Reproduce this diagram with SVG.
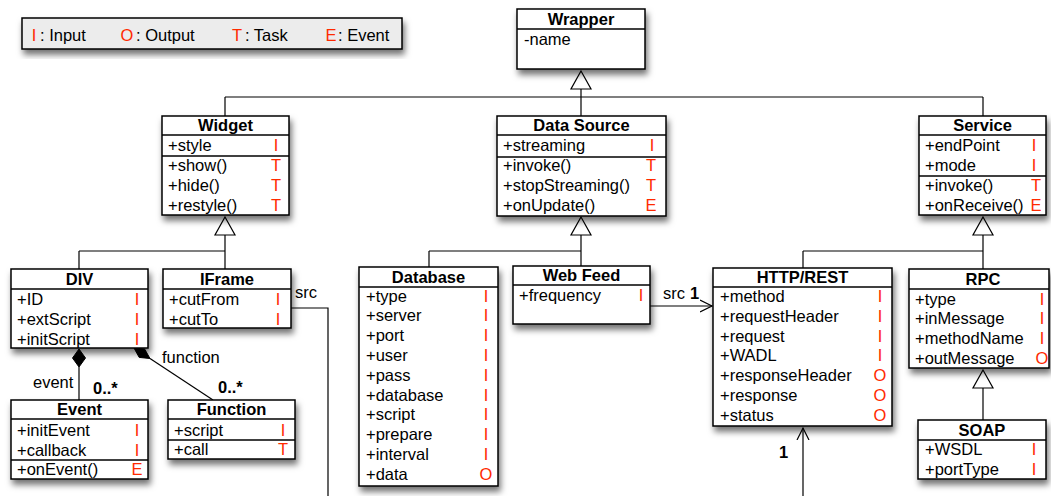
<svg xmlns="http://www.w3.org/2000/svg" width="1051" height="496" viewBox="0 0 1051 496">
<defs>
<filter id="sh" x="-20%" y="-20%" width="140%" height="150%">
<feDropShadow dx="2" dy="5" stdDeviation="3" flood-color="#000" flood-opacity="0.55"/>
</filter>
<marker id="open" markerWidth="14" markerHeight="14" refX="12" refY="7" orient="auto" markerUnits="userSpaceOnUse">
<path d="M0,1 L12,7 L0,13" fill="none" stroke="#000" stroke-width="1.2"/>
</marker>
</defs>
<style>
.box{fill:#fff;stroke:#000;stroke-width:1.5;filter:url(#sh)}
.sep{stroke:#000;stroke-width:1.5}
text{font-family:"Liberation Sans",Arial,Helvetica,sans-serif;font-size:16.5px;fill:#000}
.h{font-weight:bold;text-anchor:middle}
.b{font-weight:bold}
.r{fill:#ff2a00;text-anchor:middle}
.ln{fill:none;stroke:#000;stroke-width:1.2}
.tri{fill:#fff;stroke:#000;stroke-width:1.2}
</style>

<g id="legend">
<rect x="22" y="18" width="380" height="31" fill="#ececec" stroke="#000" stroke-width="1.5" filter="url(#sh)"/>
<text x="34" y="41" class="r">I</text><text x="40" y="41">: Input</text>
<text x="127" y="41" class="r">O</text><text x="136" y="41">: Output</text>
<text x="237" y="41" class="r">T</text><text x="245" y="41">: Task</text>
<text x="331" y="41" class="r">E</text><text x="338" y="41">: Event</text>
</g>

<g id="connectors">
<!-- Wrapper generalization -->
<path class="ln" d="M581,89 V97 M225,97 H983 M225,97 V116 M581,97 V116 M983,97 V116"/>
<path class="tri" d="M581,71 L591,89 L571,89 Z"/>
<!-- Widget generalization -->
<path class="ln" d="M225,235 V251 M79,251 H225 M79,251 V269 M225,251 V269"/>
<path class="tri" d="M225,217 L235,235 L215,235 Z"/>
<!-- Data Source generalization -->
<path class="ln" d="M581,235 V251 M429,251 H581 M429,251 V267 M581,251 V266"/>
<path class="tri" d="M581,217 L591,235 L571,235 Z"/>
<!-- Service generalization -->
<path class="ln" d="M983,235 V251 M803,251 H983 M803,251 V268 M983,251 V269"/>
<path class="tri" d="M983,217 L993,235 L973,235 Z"/>
<!-- RPC generalization -->
<path class="ln" d="M983,388 V420"/>
<path class="tri" d="M983,370 L993,388 L973,388 Z"/>
<!-- Web Feed -> HTTP/REST -->
<line class="ln" x1="650" y1="306" x2="712" y2="306" marker-end="url(#open)"/>
<text x="663" y="299">src</text><text x="690" y="299" class="b">1</text>
<!-- bottom -> HTTP/REST -->
<line class="ln" x1="803" y1="496" x2="803" y2="428" marker-end="url(#open)"/>
<text x="779" y="458" class="b">1</text>
<!-- IFrame src -->
<path class="ln" d="M291,308 H328 V496"/>
<text x="295" y="298">src</text>
<!-- DIV - Event composition -->
<path class="ln" d="M79,367 V400"/>
<path d="M79,349 L85.5,358 L79,367 L72.5,358 Z" fill="#000" stroke="#000" stroke-width="1"/>
<text x="33" y="388">event</text>
<text x="93" y="394" class="b">0..*</text>
<!-- DIV - Function composition -->
<path class="ln" d="M150,358.5 L213,400"/>
<path d="M134,348 L144.6,349 L150,358.5 L139.2,357.4 Z" fill="#000" stroke="#000" stroke-width="1"/>
<text x="162" y="363">function</text>
<text x="218" y="393" class="b">0..*</text>
</g>

<g id="wrapper">
<rect class="box" x="517" y="9" width="128" height="60"/>
<line class="sep" x1="517" y1="29" x2="645" y2="29"/>
<text x="581" y="25" class="h">Wrapper</text>
<text x="524" y="45">-name</text>
</g>

<g id="widget">
<rect class="box" x="162" y="116" width="127" height="99"/>
<line class="sep" x1="162" y1="135" x2="289" y2="135"/>
<line class="sep" x1="162" y1="156" x2="289" y2="156"/>
<text x="225.5" y="131" class="h">Widget</text>
<text x="168" y="151">+style</text><text x="276" y="151" class="r">I</text>
<text x="168" y="171">+show()</text><text x="276" y="171" class="r">T</text>
<text x="168" y="191">+hide()</text><text x="276" y="191" class="r">T</text>
<text x="168" y="211">+restyle()</text><text x="276" y="211" class="r">T</text>
</g>

<g id="datasource">
<rect class="box" x="497" y="116" width="169" height="100"/>
<line class="sep" x1="497" y1="135" x2="666" y2="135"/>
<line class="sep" x1="497" y1="157" x2="666" y2="157"/>
<text x="581.5" y="131" class="h">Data Source</text>
<text x="503" y="151">+streaming</text><text x="652" y="151" class="r">I</text>
<text x="503" y="171">+invoke()</text><text x="651" y="171" class="r">T</text>
<text x="503" y="191">+stopStreaming()</text><text x="651" y="191" class="r">T</text>
<text x="503" y="211">+onUpdate()</text><text x="651" y="211" class="r">E</text>
</g>

<g id="service">
<rect class="box" x="919" y="116" width="127" height="99"/>
<line class="sep" x1="919" y1="135" x2="1046" y2="135"/>
<line class="sep" x1="919" y1="176" x2="1046" y2="176"/>
<text x="982.5" y="131" class="h">Service</text>
<text x="925" y="151">+endPoint</text><text x="1034" y="151" class="r">I</text>
<text x="925" y="171">+mode</text><text x="1034" y="171" class="r">I</text>
<text x="925" y="191">+invoke()</text><text x="1036" y="191" class="r">T</text>
<text x="925" y="211">+onReceive()</text><text x="1036" y="211" class="r">E</text>
</g>

<g id="div">
<rect class="box" x="11" y="269" width="137" height="79"/>
<line class="sep" x1="11" y1="289" x2="148" y2="289"/>
<text x="79.5" y="285" class="h">DIV</text>
<text x="17" y="304.5">+ID</text><text x="137" y="304.5" class="r">I</text>
<text x="17" y="324.5">+extScript</text><text x="137" y="324.5" class="r">I</text>
<text x="17" y="344.5">+initScript</text><text x="137" y="344.5" class="r">I</text>
</g>

<g id="iframe">
<rect class="box" x="163" y="269" width="128" height="59"/>
<line class="sep" x1="163" y1="289" x2="291" y2="289"/>
<text x="227" y="285" class="h">IFrame</text>
<text x="169" y="304.5">+cutFrom</text><text x="278" y="304.5" class="r">I</text>
<text x="169" y="324.5">+cutTo</text><text x="278" y="324.5" class="r">I</text>
</g>

<g id="event">
<rect class="box" x="11" y="400" width="137" height="79"/>
<line class="sep" x1="11" y1="419" x2="148" y2="419"/>
<line class="sep" x1="11" y1="460" x2="148" y2="460"/>
<text x="79.5" y="415" class="h">Event</text>
<text x="17" y="435.5">+initEvent</text><text x="137" y="435.5" class="r">I</text>
<text x="17" y="455.5">+callback</text><text x="137" y="455.5" class="r">I</text>
<text x="17" y="475">+onEvent()</text><text x="137" y="475" class="r">E</text>
</g>

<g id="function">
<rect class="box" x="168" y="400" width="127" height="59"/>
<line class="sep" x1="168" y1="419" x2="295" y2="419"/>
<line class="sep" x1="168" y1="440" x2="295" y2="440"/>
<text x="231.5" y="415" class="h">Function</text>
<text x="174" y="435.5">+script</text><text x="283" y="435.5" class="r">I</text>
<text x="174" y="455">+call</text><text x="283" y="455" class="r">T</text>
</g>

<g id="database">
<rect class="box" x="359" y="267" width="139" height="219"/>
<line class="sep" x1="359" y1="287" x2="498" y2="287"/>
<text x="428.5" y="283" class="h">Database</text>
<text x="366" y="301.5">+type</text><text x="486" y="301.5" class="r">I</text>
<text x="366" y="321.3">+server</text><text x="486" y="321.3" class="r">I</text>
<text x="366" y="341.1">+port</text><text x="486" y="341.1" class="r">I</text>
<text x="366" y="360.9">+user</text><text x="486" y="360.9" class="r">I</text>
<text x="366" y="380.7">+pass</text><text x="486" y="380.7" class="r">I</text>
<text x="366" y="400.5">+database</text><text x="486" y="400.5" class="r">I</text>
<text x="366" y="420.3">+script</text><text x="486" y="420.3" class="r">I</text>
<text x="366" y="440.1">+prepare</text><text x="486" y="440.1" class="r">I</text>
<text x="366" y="459.9">+interval</text><text x="486" y="459.9" class="r">I</text>
<text x="366" y="479.7">+data</text><text x="486" y="479.7" class="r">O</text>
</g>

<g id="webfeed">
<rect class="box" x="513" y="266" width="137" height="58"/>
<line class="sep" x1="513" y1="285" x2="650" y2="285"/>
<text x="581.5" y="281" class="h">Web Feed</text>
<text x="519" y="300.5">+frequency</text><text x="641" y="300.5" class="r">I</text>
</g>

<g id="httprest">
<rect class="box" x="713" y="268" width="179" height="158"/>
<line class="sep" x1="713" y1="287" x2="892" y2="287"/>
<text x="802.5" y="283" class="h">HTTP/REST</text>
<text x="720" y="302">+method</text><text x="880" y="302" class="r">I</text>
<text x="720" y="321.8">+requestHeader</text><text x="880" y="321.8" class="r">I</text>
<text x="720" y="341.6">+request</text><text x="880" y="341.6" class="r">I</text>
<text x="720" y="361.4">+WADL</text><text x="880" y="361.4" class="r">I</text>
<text x="720" y="381.2">+responseHeader</text><text x="880" y="381.2" class="r">O</text>
<text x="720" y="401">+response</text><text x="880" y="401" class="r">O</text>
<text x="720" y="420.8">+status</text><text x="880" y="420.8" class="r">O</text>
</g>

<g id="rpc">
<rect class="box" x="909" y="269" width="140" height="99"/>
<line class="sep" x1="909" y1="289" x2="1049" y2="289"/>
<text x="983" y="285" class="h">RPC</text>
<text x="915" y="304.5">+type</text><text x="1042" y="304.5" class="r">I</text>
<text x="915" y="324.3">+inMessage</text><text x="1042" y="324.3" class="r">I</text>
<text x="915" y="344.1">+methodName</text><text x="1042" y="344.1" class="r">I</text>
<text x="915" y="363.9">+outMessage</text><text x="1042" y="363.9" class="r">O</text>
</g>

<g id="soap">
<rect class="box" x="918" y="420" width="128" height="59"/>
<line class="sep" x1="918" y1="440" x2="1046" y2="440"/>
<text x="982" y="436" class="h">SOAP</text>
<text x="925" y="455">+WSDL</text><text x="1034" y="455" class="r">I</text>
<text x="925" y="474.5">+portType</text><text x="1034" y="474.5" class="r">I</text>
</g>
</svg>
